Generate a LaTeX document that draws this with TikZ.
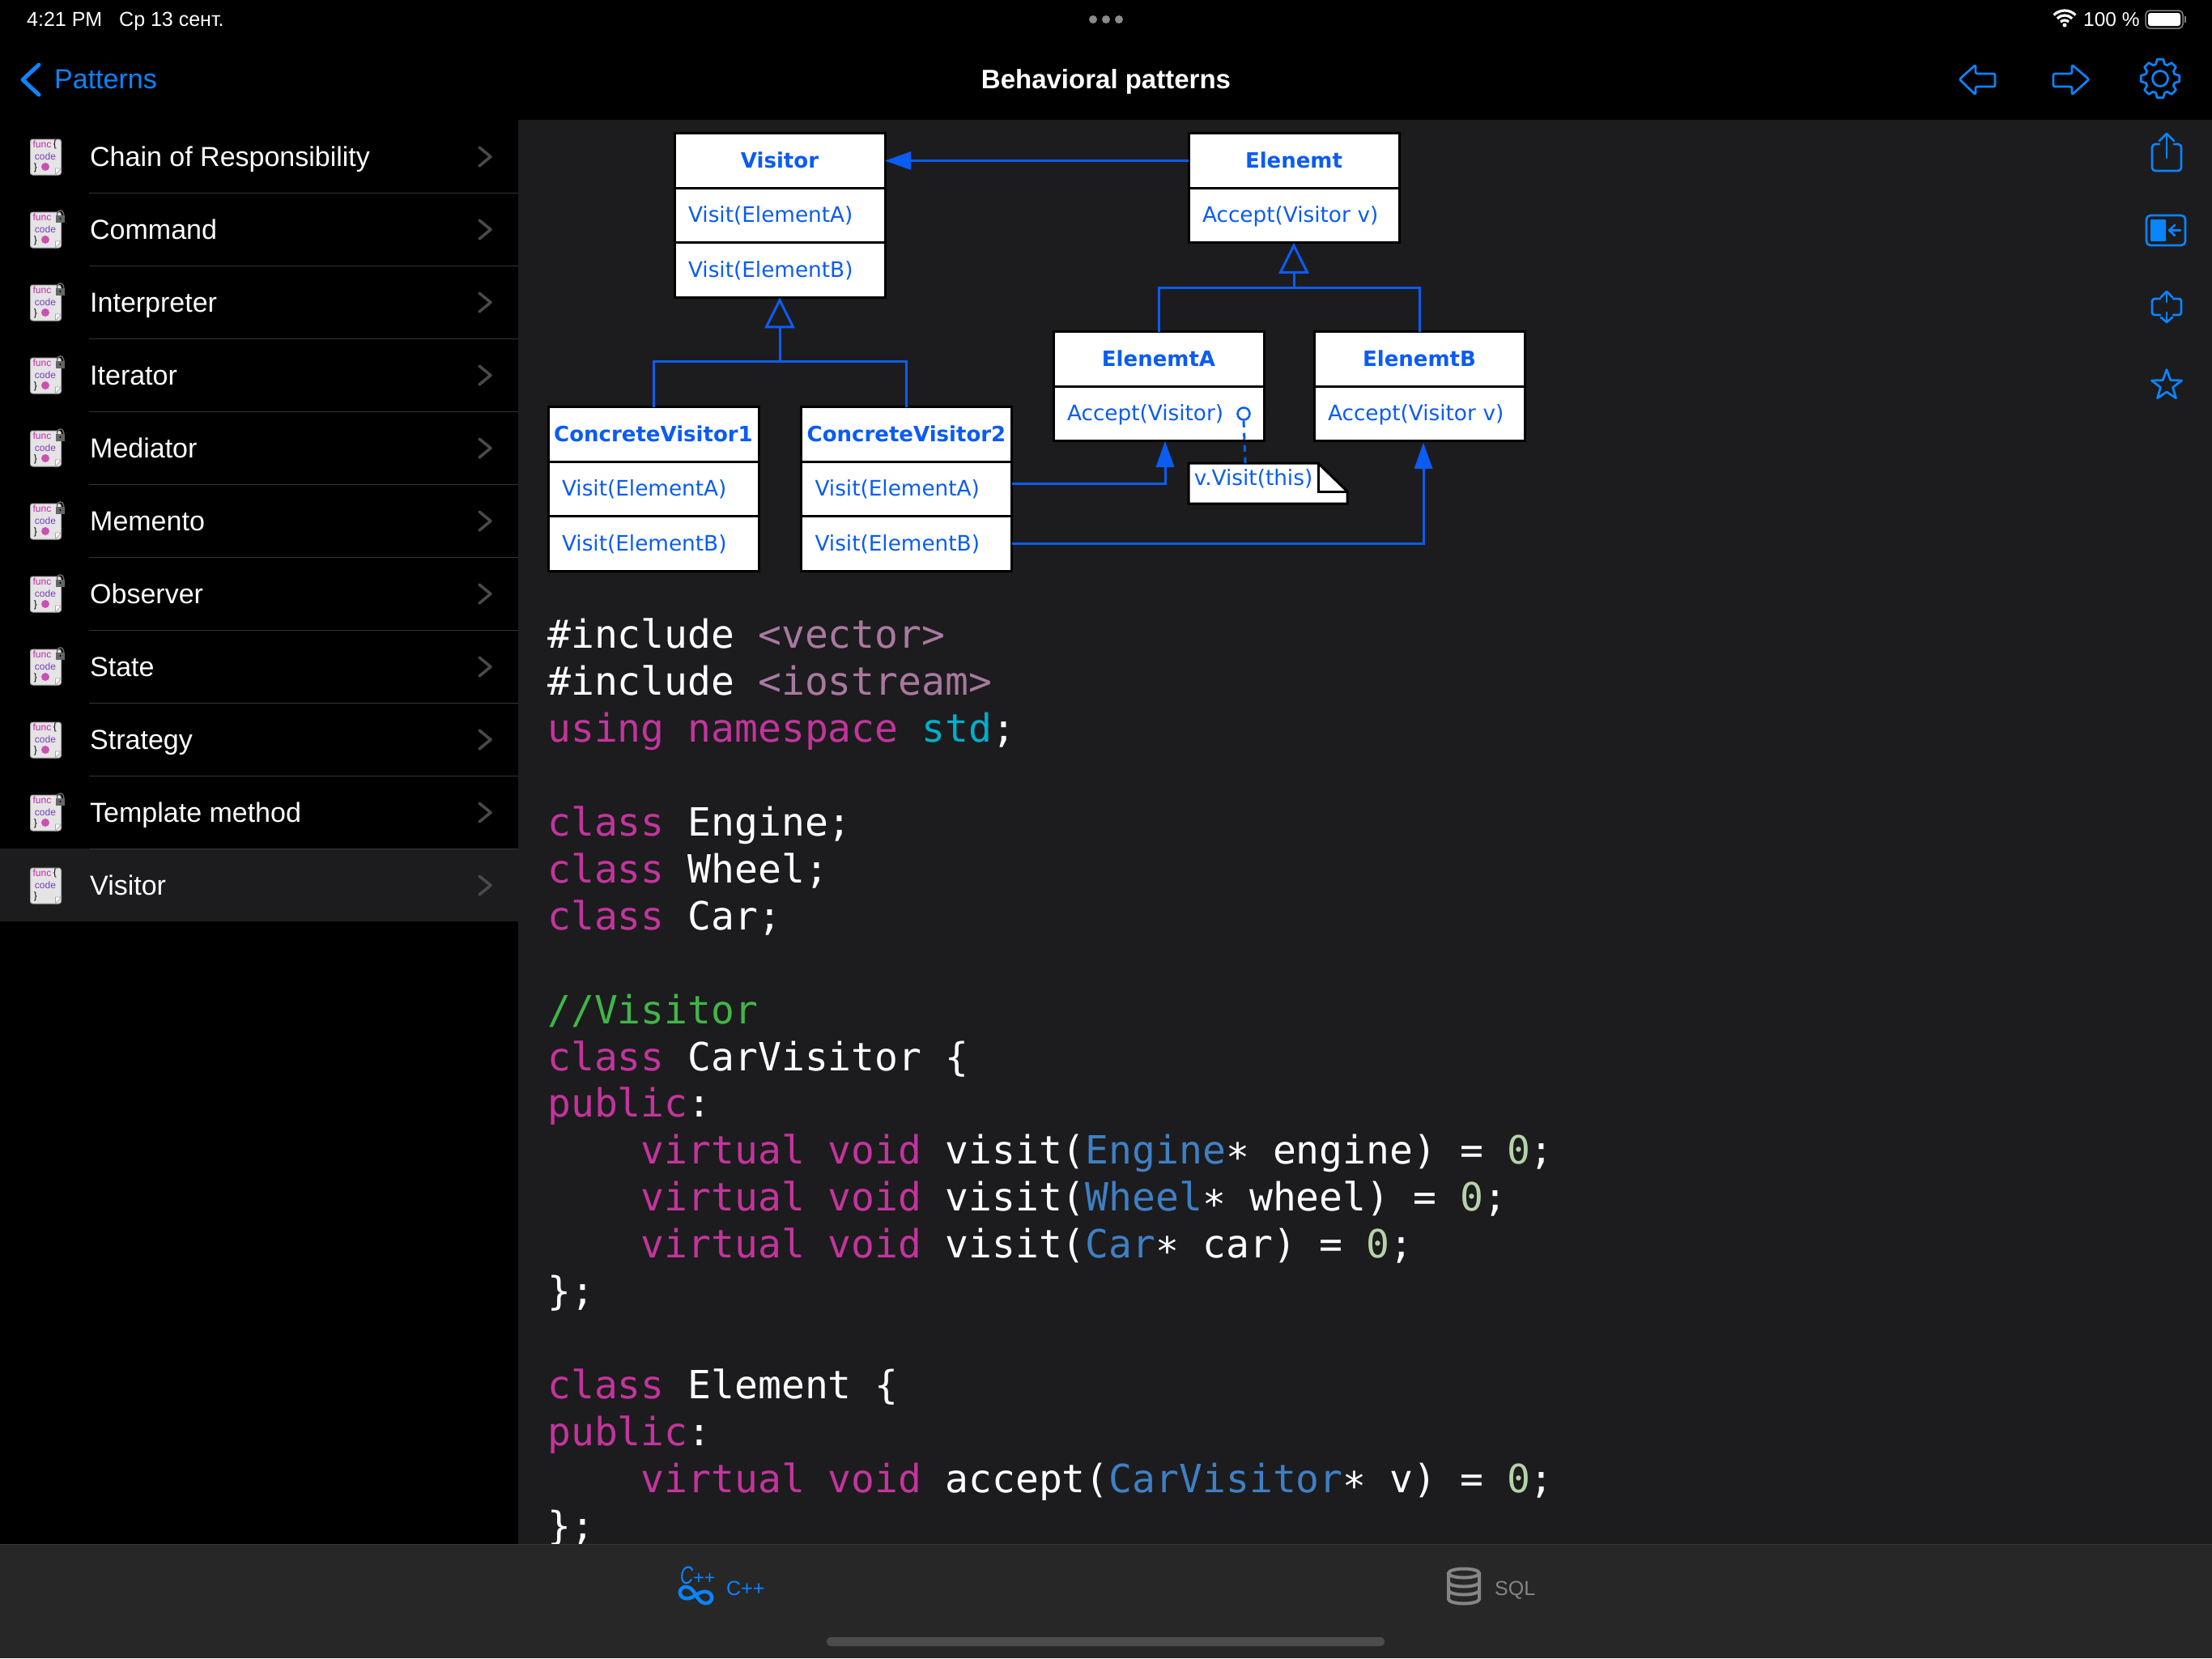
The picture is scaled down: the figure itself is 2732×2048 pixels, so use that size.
\documentclass[tikz,border=0pt]{standalone}
\usepackage{fontspec}
\setmainfont{Liberation Sans}
\setmonofont{DejaVu Sans Mono}
\newfontfamily\umlfont{DejaVu Sans}
\usetikzlibrary{positioning,arrows.meta}

\definecolor{appblue}{HTML}{0A84FF}
\definecolor{umlblue}{HTML}{0B5CF2}
\definecolor{panelbg}{HTML}{1C1C1E}
\definecolor{barbg}{HTML}{272727}
\definecolor{rulegray}{HTML}{343436}
\definecolor{chevgray}{HTML}{4A4A4C}
\definecolor{tabgray}{HTML}{858585}
\definecolor{dotgray}{HTML}{8A8A8A}
\definecolor{codekw}{HTML}{C3349C}
\definecolor{codeinc}{HTML}{A9789F}
\definecolor{codens}{HTML}{00AECB}
\definecolor{codecmt}{HTML}{41B548}
\definecolor{codetype}{HTML}{3F7FC4}
\definecolor{codenum}{HTML}{B5D3A8}
\definecolor{iconpaper}{HTML}{E4E4E4}
\definecolor{iconfunc}{HTML}{C828B0}
\definecolor{iconcode}{HTML}{7A3CC0}
\definecolor{icondot}{HTML}{CC50B4}

\newcommand{\fsz}[1]{\fontsize{#1}{#1}\selectfont}
\newcommand{\ckw}[1]{\textcolor{codekw}{#1}}
\newcommand{\cinc}[1]{\textcolor{codeinc}{#1}}
\newcommand{\cns}[1]{\textcolor{codens}{#1}}
\newcommand{\ccmt}[1]{\textcolor{codecmt}{#1}}
\newcommand{\ctp}[1]{\textcolor{codetype}{#1}}
\newcommand{\cnum}[1]{\textcolor{codenum}{#1}}
\newcommand{\cind}{\hspace*{115.6pt}}
\newcommand{\cptr}{\raisebox{-9pt}{*}}

\tikzset{
    x=1pt, y=-1pt,
    status/.style={anchor=base west, inner sep=0pt, text=white, font=\fsz{25}},
    rowlabel/.style={anchor=base west, inner sep=0pt, text=white, font=\fsz{34}},
    chevron/.style={draw=chevgray, line width=3.5pt, line cap=round, line join=round},
    appicon/.style={draw=appblue, line width=2.7pt, line cap=round, line join=round},
    umlhead/.style={draw=black, fill=white, line width=3pt, outer sep=0pt, inner sep=0pt,
        minimum height=67.5pt, text width=260pt, align=center, text=umlblue,
        text height=21pt, text depth=4pt, font=\umlfont\fsz{26}\bfseries},
    umlrow/.style={draw=black, fill=white, line width=3pt, outer sep=0pt, inner ysep=0pt,
        inner xsep=17pt, minimum height=67.5pt, text width=226pt, align=left, text=umlblue,
        text height=21pt, text depth=4pt, font=\umlfont\fsz{26.3}},
    umlline/.style={draw=umlblue, line width=3pt},
    assoc/.style={umlline, -{Triangle[length=32pt,width=22pt]}},
    gener/.style={umlline, -{Triangle[open,length=38pt,width=37pt]}},
    docicon/.pic={
        \fill[iconpaper, draw=gray!70, line width=1pt, rounded corners=3pt] (-18.5,-21) rectangle (19.5,23);
        \fill[white, draw=gray!70, line width=.8pt] (12.5,23) -- (12.5,15) -- (19.5,15) -- cycle;
        \node[inner sep=0pt, text=iconfunc, font=\fsz{12}] (func) at (-4,-15) {func};
        \node[inner sep=0pt, text=iconcode, font=\fsz{12}] (code) at (0,0) {code};
        \node[inner sep=0pt, text=black, font=\fsz{12}] (close) at (-12,14) {\}};
        \ifnum\doton=1
            \fill[icondot] (0,13) circle (5pt);
        \fi
        \ifnum\lockon=1
            \draw[gray!80!black, line width=1.5pt] (14.5,-17) -- (14.5,-19) .. controls (14.5,-24.5) and (22.5,-24.5) .. (22.5,-19) -- (22.5,-17);
            \fill[gray!80!black] (13,-17) rectangle (24,-8);
            \fill[black] (18.5,-13) circle (1.2pt);
        \else
            \node[inner sep=0pt, text=black, font=\fsz{12}] (open) at (12,-15) {\{};
        \fi
    }
}

\begin{document}
\begin{tikzpicture}
    \useasboundingbox (0,0) rectangle (2732,2048);
    \fill[black] (0,0) rectangle (2732,2048);
    \fill[panelbg] (640,148) rectangle (2732,1907);
    \fill[panelbg] (0,1048) rectangle (640,1138);

    \node[status] (clock) at (33,32) {4:21 PM};
    \node[status] (date) at (147,32) {Ср 13 сент.};
    \node[status, font=\fsz{24.5}] (battery) at (2573,32) {100 \%};
    \foreach \x in {1350,1366,1382}
        \fill[dotgray] (\x,24) circle (5pt);
    \foreach \r in {7,13,19}
        \draw[white, line width=3.2pt] ({2550+\r*cos(45)},{32-\r*sin(45)}) arc[start angle=45, end angle=135, radius=\r pt];
    \fill[white] (2550,31) circle (2.5pt);
    \draw[gray, line width=1.5pt, rounded corners=5pt] (2650,13) rectangle (2696,35);
    \fill[white, rounded corners=3pt] (2653,16) rectangle (2693,32);
    \fill[gray] (2698,20) rectangle (2700,28);

    \draw[appicon, line width=5pt] (48,80) -- (28,98.5) -- (48,117);
    \node[rowlabel, text=appblue] (back) at (67,109) {Patterns};
    \node[rowlabel, anchor=base, font=\fsz{33}\bfseries] (title) at (1366,109) {Behavioral patterns};

    \draw[appicon, rounded corners=2pt] (2420,98) -- (2440,80) -- (2440,91) -- (2464,91) -- (2464,107) -- (2440,107) -- (2440,117) -- cycle;
    \draw[appicon, rounded corners=2pt] (2580,98) -- (2559,80) -- (2559,91) -- (2536,91) -- (2536,107) -- (2559,107) -- (2559,117) -- cycle;
    \draw[appicon] ({2668+18.5*cos(-17)},{97+18.5*sin(-17)})
        \foreach \a in {0,45,...,315} {
            -- ({2668+18.5*cos(\a-17)},{97+18.5*sin(\a-17)})
            -- ({2668+24*cos(\a-9)},{97+24*sin(\a-9)})
            -- ({2668+24*cos(\a+9)},{97+24*sin(\a+9)})
            -- ({2668+18.5*cos(\a+17)},{97+18.5*sin(\a+17)})
        } -- cycle;
    \draw[appicon] (2668,97) circle (9.5pt);

    \draw[appicon, rounded corners=4pt] (2667,178) -- (2658,178) -- (2658,211) -- (2694,211) -- (2694,178) -- (2685,178);
    \draw[appicon] (2676,195) -- (2676,166);
    \draw[appicon] (2667,174) -- (2676,165) -- (2685,174);
    \draw[appicon, rounded corners=5pt] (2651,266) rectangle (2699,303);
    \fill[appblue, rounded corners=1pt] (2656,271) rectangle (2675,298);
    \draw[appicon, line width=2.5pt] (2693,284.5) -- (2680,284.5);
    \draw[appicon, line width=2.5pt] (2686,278) -- (2679,284.5) -- (2686,291);
    \draw[appicon, rounded corners=3pt] (2668,369) -- (2658,369) -- (2658,389) -- (2668,389);
    \draw[appicon, rounded corners=3pt] (2684,369) -- (2694,369) -- (2694,389) -- (2684,389);
    \draw[appicon] (2676,373) -- (2676,361);
    \draw[appicon] (2669,367) -- (2676,360) -- (2683,367);
    \draw[appicon] (2676,386) -- (2676,398);
    \draw[appicon] (2669,392) -- (2676,398) -- (2683,392);
    \draw[appicon] ({2676+19.5*cos(-90)},{476+19.5*sin(-90)})
        \foreach \a in {-90,-18,54,126,198} {
            -- ({2676+19.5*cos(\a)},{476+19.5*sin(\a)})
            -- ({2676+8*cos(\a+36)},{476+8*sin(\a+36)})
        } -- cycle;

    \foreach \name/\lockon/\doton [count=\i from 0] in {Chain of Responsibility/0/1, Command/1/1, Interpreter/1/1,
        Iterator/1/1, Mediator/1/1, Memento/1/1, Observer/1/1, State/1/1, Strategy/0/1, Template method/1/1, Visitor/0/0} {
        \pic (icon\i) at (56,{193+90*\i}) {docicon};
        \node[rowlabel] (label\i) at (111,{205+90*\i}) {\name};
        \draw[chevron] (592,{182+90*\i}) -- (606,{193.5+90*\i}) -- (592,{205+90*\i});
        \ifnum\i<10
            \draw[rulegray, line width=1pt] (110,{238+90*\i}) -- (640,{238+90*\i});
        \fi
    }

    \node[anchor=north west, inner sep=0pt, align=left, text=white, font=\ttfamily\fontsize{48}{57.9}\selectfont] (code) at (676,764) {
        \#include \cinc{<vector>}\\
        \#include \cinc{<iostream>}\\
        \ckw{using namespace} \cns{std};\\
        \mbox{}\\
        \ckw{class} Engine;\\
        \ckw{class} Wheel;\\
        \ckw{class} Car;\\
        \mbox{}\\
        \ccmt{//Visitor}\\
        \ckw{class} CarVisitor \{\\
        \ckw{public}:\\
        \cind\ckw{virtual void} visit(\ctp{Engine}\cptr{} engine) = \cnum{0};\\
        \cind\ckw{virtual void} visit(\ctp{Wheel}\cptr{} wheel) = \cnum{0};\\
        \cind\ckw{virtual void} visit(\ctp{Car}\cptr{} car) = \cnum{0};\\
        \};\\
        \mbox{}\\
        \ckw{class} Element \{\\
        \ckw{public}:\\
        \cind\ckw{virtual void} accept(\ctp{CarVisitor}\cptr{} v) = \cnum{0};\\
        \};
    };

    \node[umlhead] (visitorHead) at (963,198.5) {Visitor};
    \node[umlrow, below=0pt of visitorHead] (visitorA) {Visit(ElementA)};
    \node[umlrow, below=0pt of visitorA] (visitorB) {Visit(ElementB)};
    \node[umlhead] (elementHead) at (1598,198.5) {Elenemt};
    \node[umlrow, below=0pt of elementHead] (elementAcc) {Accept(Visitor v)};
    \node[umlhead] (concreteOneHead) at (807,536.5) {ConcreteVisitor1};
    \node[umlrow, below=0pt of concreteOneHead] (concreteOneA) {Visit(ElementA)};
    \node[umlrow, below=0pt of concreteOneA] (concreteOneB) {Visit(ElementB)};
    \node[umlhead] (concreteTwoHead) at (1119.5,536.5) {ConcreteVisitor2};
    \node[umlrow, below=0pt of concreteTwoHead] (concreteTwoA) {Visit(ElementA)};
    \node[umlrow, below=0pt of concreteTwoA] (concreteTwoB) {Visit(ElementB)};
    \node[umlhead] (elementAHead) at (1431,443.5) {ElenemtA};
    \node[umlrow, below=0pt of elementAHead] (elementAAcc) {Accept(Visitor)};
    \node[umlhead] (elementBHead) at (1753,443.5) {ElenemtB};
    \node[umlrow, below=0pt of elementBHead] (elementBAcc) {Accept(Visitor v)};

    \draw[fill=white, draw=black, line width=3pt] (1468,572) -- (1628,572) -- (1664,607) -- (1664,622) -- (1468,622) -- cycle;
    \draw[draw=black, line width=3pt] (1628,572) -- (1628,607) -- (1664,607);
    \node[inner sep=0pt, minimum width=160pt, minimum height=38pt, text=umlblue, font=\umlfont\fsz{26.3}] (note) at (1548,591) {v.Visit(this)};
    \node[circle, draw=umlblue, line width=2.5pt, inner sep=0pt, minimum size=15pt] (noteDot) at (1536,511) {};
    \draw[umlline, dash pattern=on 8pt off 7pt] (noteDot.south) -- ([xshift=-10pt]note.north);

    \draw[assoc] (elementHead.west) -- (visitorHead.east);
    \coordinate (visitorJoin) at ([yshift=-79pt]visitorB.south);
    \coordinate (elementJoin) at ([yshift=-56pt]elementAcc.south);
    \draw[umlline] (concreteOneHead.north) |- (visitorJoin) -| (concreteTwoHead.north);
    \draw[gener] (visitorJoin) -- (visitorB.south);
    \draw[umlline] (elementAHead.north) |- (elementJoin) -| (elementBHead.north);
    \draw[gener] (elementJoin) -- (elementAcc.south);
    \draw[assoc] ([yshift=7pt]concreteTwoA.east) -| ([xshift=8pt]elementAAcc.south);
    \draw[assoc] (concreteTwoB.east) -| ([xshift=5pt,yshift=-2pt]elementBAcc.south);

    \fill[barbg] (0,1907) rectangle (2732,2048);
    \draw[rulegray, line width=1pt] (0,1907) -- (2732,1907);
    \node[anchor=base west, inner sep=0pt, text=appblue, font=\fsz{23}] (cppSmall) at (840,1956) {\scalebox{.72}[1]{\fsz{31}\itshape C}++};
    \node[anchor=base west, inner sep=0pt, text=appblue, font=\fsz{25}] (cppTab) at (897,1970) {C++};
    \begin{scope}[shift={(859.5,1970)}, rotate=-14]
        \draw[appicon, line width=4.5pt] plot[domain=0:360, samples=72] ({20*cos(\x)/(1+sin(\x)*sin(\x))},{20*sin(\x)*cos(\x)/(1+sin(\x)*sin(\x))}) -- cycle;
    \end{scope}
    \draw[tabgray, line width=4pt] (1808,1943) ellipse [x radius=19pt, y radius=5.5pt];
    \draw[tabgray, line width=4pt] (1789,1943) -- (1789,1975) arc[start angle=180, end angle=360, x radius=19pt, y radius=5.5pt] -- (1827,1943);
    \foreach \y in {1954,1964}
        \draw[tabgray, line width=4pt] (1789,\y) arc[start angle=180, end angle=360, x radius=19pt, y radius=5.5pt];
    \node[anchor=base west, inner sep=0pt, text=tabgray, font=\fsz{25}] (sqlTab) at (1846,1970) {SQL};
    \fill[gray!60!black, rounded corners=5pt] (1021,2022) rectangle (1710,2033);
\end{tikzpicture}
\end{document}
